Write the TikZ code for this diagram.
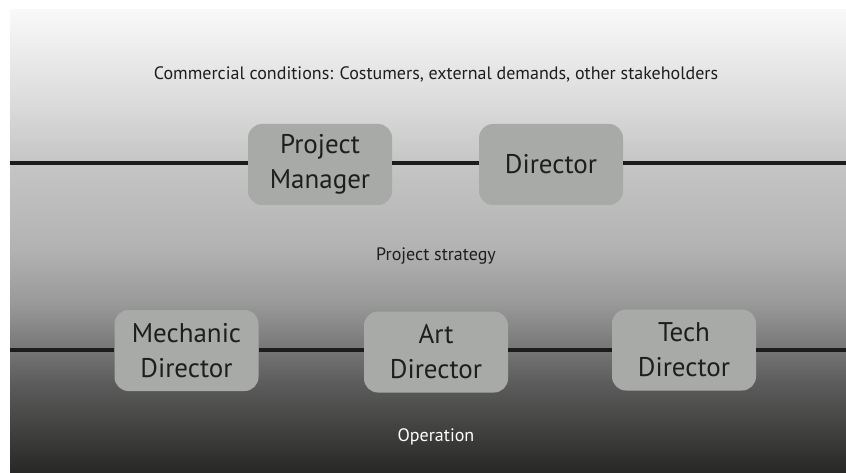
\documentclass[tikz,border=0pt]{standalone}
\usepackage{fontspec}
\setmainfont{PT Sans}
\definecolor{boxfill}{HTML}{A8AAA8}
\definecolor{linecol}{HTML}{1C1C1C}
\definecolor{txt}{HTML}{1E1E1E}
\definecolor{g0}{HTML}{F9F9F9}
\definecolor{g1}{HTML}{DCDCDC}
\definecolor{g2}{HTML}{C6C6C6}
\definecolor{g3}{HTML}{B2B2B2}
\definecolor{g4}{HTML}{989898}
\definecolor{g5}{HTML}{5E5E5E}
\definecolor{g6}{HTML}{272725}
\begin{document}
\begin{tikzpicture}[x=1pt,y=-1pt,
  rolebox/.style={draw=none,fill=boxfill,rounded corners=14pt,minimum width=144pt,minimum height=81pt,
    inner sep=0pt,align=center,text=txt,font=\fontsize{27}{35}\selectfont},
  smalltxt/.style={font=\fontsize{18}{20}\selectfont,text=txt},
  conn/.style={draw=linecol,line width=4pt}]
\useasboundingbox (0,0) rectangle (846,473);
\fill[white] (0,0) rectangle (846,473);
\shade[top color=g0,bottom color=g1] (10,10) rectangle (846,100.5);
\shade[top color=g1,bottom color=g2] (10,100) rectangle (846,160.5);
\shade[top color=g2,bottom color=g3] (10,160) rectangle (846,250.5);
\shade[top color=g3,bottom color=g4] (10,250) rectangle (846,305.5);
\shade[top color=g4,bottom color=g5] (10,305) rectangle (846,380.5);
\shade[top color=g5,bottom color=g6] (10,380) rectangle (846,473);

\node[smalltxt] (comm) at (436,74) {Commercial conditions: Costumers, external demands, other stakeholders};
\node[smalltxt] (strat) at (436,256) {Project strategy};
\node[smalltxt,text=white] (oper) at (436,437) {Operation};

\node[rolebox] (pm) at (320,164.5) {Project\\Manager};
\node[rolebox] (dir) at (551,164.5) {Director};
\node[rolebox] (mech) at (186.5,350.5) {Mechanic\\Director};
\node[rolebox] (art) at (436,352) {Art\\Director};
\node[rolebox] (tech) at (684,350) {Tech\\Director};

\coordinate (l1) at (10,163);
\coordinate (r1) at (846,163);
\coordinate (l2) at (10,350);
\coordinate (r2) at (846,350);
\draw[conn] (l1) -- (pm.west |- l1);
\draw[conn] (pm.east |- l1) -- (dir.west |- l1);
\draw[conn] (dir.east |- l1) -- (r1);
\draw[conn] (l2) -- (mech.west |- l2);
\draw[conn] (mech.east |- l2) -- (art.west |- l2);
\draw[conn] (art.east |- l2) -- (tech.west |- l2);
\draw[conn] (tech.east |- l2) -- (r2);
\end{tikzpicture}
\end{document}
